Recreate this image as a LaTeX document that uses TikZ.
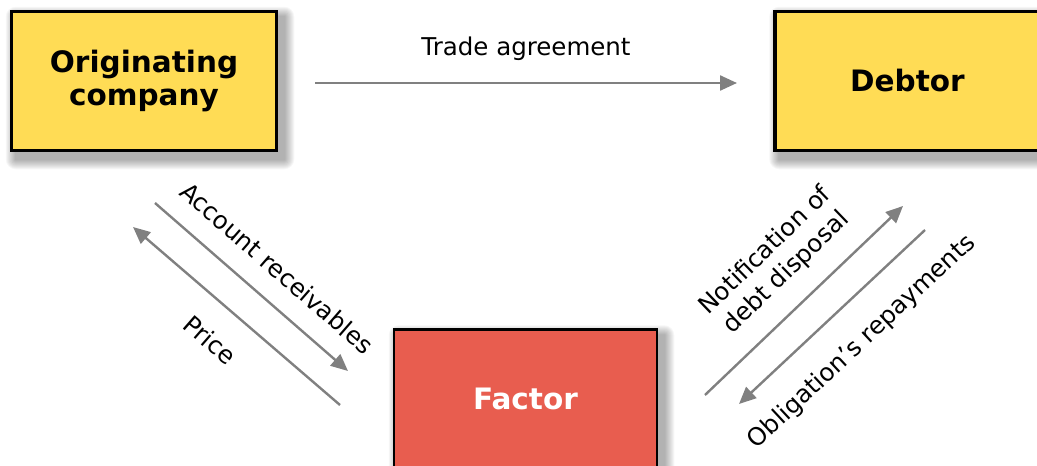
\documentclass[tikz,border=0pt]{standalone}
\usepackage{fontspec}
\setmainfont{DejaVu Sans}
\usetikzlibrary{arrows.meta,backgrounds}
\definecolor{boxyellow}{RGB}{255,220,85}
\definecolor{boxred}{RGB}{232,93,79}
\definecolor{flowgray}{RGB}{128,128,128}
\tikzset{
  party/.style={draw=black, line width=3.5pt, fill=boxyellow, text=black,
    minimum width=265pt, minimum height=139pt, align=center,
    font=\fontsize{29.5}{33}\selectfont\bfseries},
  agent/.style={party, fill=boxred, text=white, line width=2.5pt,
    minimum width=263pt},
  flow/.style={draw=flowgray, line width=2.4pt,
    -{Triangle[length=17pt,width=15pt]}},
  flowlabel/.style={font=\fontsize{24.5}{30}\selectfont, align=center, inner sep=0pt}
}
% soft shadow under a box, built from stacked translucent rectangles
\newcommand{\softshadow}[1]{%
  \foreach \r in {1,...,10}{%
    \fill[black, fill opacity=0.035, rounded corners=\r pt]
      ([xshift={(6-\r)*1pt}, yshift={(-7+\r)*1pt}]#1.north west)
      rectangle ([xshift={(6+\r)*1pt}, yshift={(-7-\r)*1pt}]#1.south east);
  }%
}
\begin{document}
\begin{tikzpicture}[x=1pt, y=-1pt]
  \useasboundingbox (0,0) rectangle (1037,466);

  \node[party] (orig) at (144,81) {Originating\\company};
  \node[party] (debtor) at (907.5,81) {Debtor};
  \node[agent] (factor) at (525.5,399) {Factor};

  \begin{scope}[on background layer]
    \softshadow{orig}
    \softshadow{debtor}
    \softshadow{factor}
  \end{scope}

  % flow end points
  \coordinate (tradeA) at (315,83);
  \coordinate (tradeB) at (737,83);
  \coordinate (recvA) at (155,203);
  \coordinate (recvB) at (348,371);
  \coordinate (priceA) at (340,405);
  \coordinate (priceB) at (133,227);
  \coordinate (noteA) at (705,395);
  \coordinate (noteB) at (903,206);
  \coordinate (repayA) at (925,230);
  \coordinate (repayB) at (739,404);

  \draw[flow] (tradeA) -- (tradeB);
  \draw[flow] (recvA) -- (recvB);
  \draw[flow] (priceA) -- (priceB);
  \draw[flow] (noteA) -- (noteB);
  \draw[flow] (repayA) -- (repayB);

  \node[flowlabel] (tradeL) at (526,49) {Trade agreement};
  \node[flowlabel, rotate=-41] (recvL) at (277,268) {Account receivables};
  \node[flowlabel, rotate=-41] (priceL) at (210,340) {Price};
  \node[flowlabel, rotate=44] (noteL) at (776,262) {Notification of\\debt disposal};
  \node[flowlabel, rotate=43] (repayL) at (862,342) {Obligation’s repayments};
\end{tikzpicture}
\end{document}
